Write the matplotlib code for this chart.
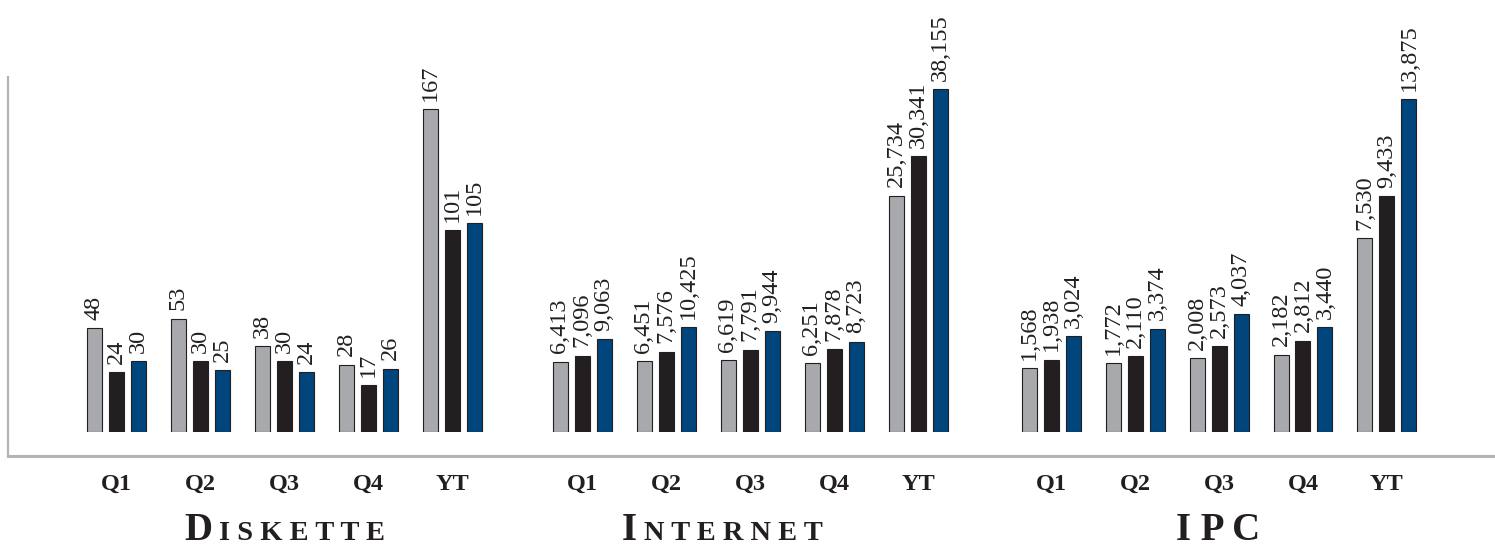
import matplotlib
matplotlib.use('Agg')
import matplotlib.pyplot as plt
import numpy as np

plt.rcParams['font.family'] = ['Liberation Serif', 'DejaVu Serif']

periods = ['Q1', 'Q2', 'Q3', 'Q4', 'YT']

diskette_a = [48, 53, 38, 28, 167]
diskette_b = [24, 30, 30, 17, 101]
diskette_c = [30, 25, 24, 26, 105]

internet_a = [6413, 6451, 6619, 6251, 25734]
internet_b = [7096, 7576, 7791, 7878, 30341]
internet_c = [9063, 10425, 9944, 8723, 38155]

ipc_a = [1568, 1772, 2008, 2182, 7530]
ipc_b = [1938, 2110, 2573, 2812, 9433]
ipc_c = [3024, 3374, 4037, 3440, 13875]

colors = ['#a7a9ac', '#231f20', '#00457c']
edge = '#231f20'
frame_col = '#b1b3b6'
ink = '#231f20'

W, H = 1495, 548


def px_box(x0, x1, ytop, ybot):
    return [x0 / W, 1 - ybot / H, (x1 - x0) / W, (ybot - ytop) / H]


fig = plt.figure(figsize=(W / 100, H / 100), dpi=100)

# outer frame: left and bottom rules only
fr = fig.add_axes(px_box(8, W + 5, 77, 456))
fr.set_facecolor('none')
for s in ['top', 'right']:
    fr.spines[s].set_visible(False)
fr.spines['left'].set_color(frame_col)
fr.spines['left'].set_linewidth(1.6)
fr.spines['bottom'].set_color(frame_col)
fr.spines['bottom'].set_linewidth(2.2)
fr.set_xticks([])
fr.set_yticks([])

# each product gets its own value scale
groups = [
    # (first letter, rest, series, first-centre px, y-limits, title x px)
    ('D', 'ISKETTE', [diskette_a, diskette_b, diskette_c], 116, (-8.5, 184.4), 184),
    ('I', 'NTERNET', [internet_a, internet_b, internet_c], 582, (-1781, 39546), 622),
    ('I P C', '', [ipc_a, ipc_b, ipc_c], 1051, (-1371, 14906), 1176),
]

x = np.arange(len(periods))
offsets = [-22 / 84, 0, 22 / 84]
bw = 15 / 84
title_y = 1 - 540 / H

for first, rest, series, c0, (lo, hi), tx in groups:
    ax = fig.add_axes(px_box(c0 - 42, c0 + 4 * 84 + 42, 77, 432))
    ax.set_facecolor('none')
    ax.set_xlim(-0.5, 4.5)
    ax.set_ylim(lo, hi)
    for s in ax.spines.values():
        s.set_visible(False)
    ax.set_yticks([])
    ax.set_xticks(x, periods, fontsize=17.5, fontweight='bold', color=ink)
    ax.tick_params(axis='x', length=0, pad=30)

    for vals, off, col in zip(series, offsets, colors):
        vals = np.array(vals)
        ax.bar(x + off, vals - lo, bottom=lo, width=bw, color=col,
               edgecolor=edge, linewidth=0.8)
        for xi, v in zip(x + off, vals):
            ax.annotate(f'{v:,}', xy=(xi, v), xytext=(0, 6),
                        textcoords='offset points', rotation=90,
                        ha='center', va='bottom', fontsize=17.5,
                        color=ink)

    # product name in spaced small caps
    t = fig.text(tx / W, title_y, first, fontsize=28, color=ink,
                 fontweight='bold', ha='left', va='baseline')
    if rest:
        ax.annotate(' '.join(rest), xy=(1, title_y),
                    xycoords=(t, 'figure fraction'), xytext=(5, 0),
                    textcoords='offset points', fontsize=20.5,
                    fontweight='bold', color=ink, ha='left', va='baseline')

fig.savefig('out.png', dpi=100)
